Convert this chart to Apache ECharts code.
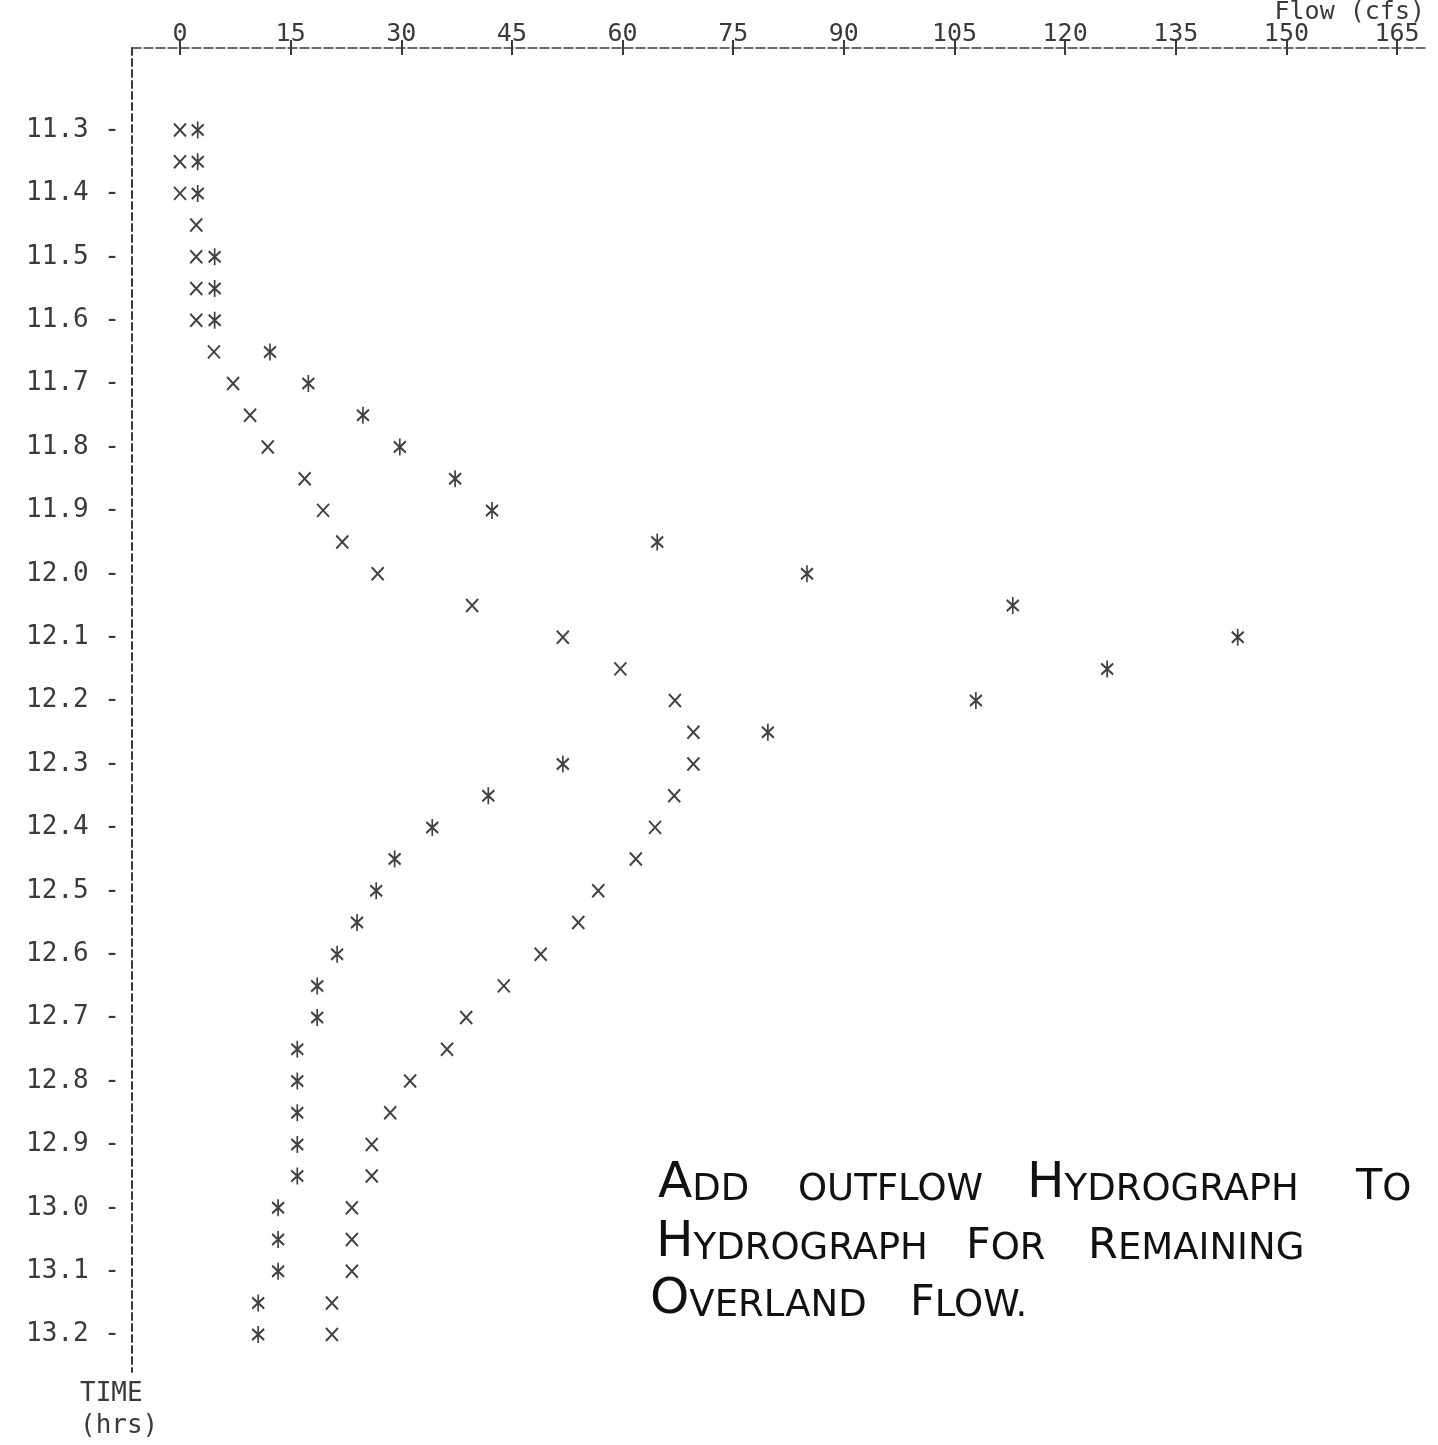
<!DOCTYPE html>
<html>
<head>
<meta charset="utf-8">
<title>Outflow hydrograph</title>
<script src="https://cdn.jsdelivr.net/npm/echarts@6/dist/echarts.min.js"></script>
<style>
  html, body { margin: 0; padding: 0; background: #fff; }
  #main { width: 1438px; height: 1445px; }
</style>
</head>
<body>
<div id="main"></div>
<script>
// time rows of the printout (hrs), one row every 0.05 hr
var times = [11.30, 11.35, 11.40, 11.45, 11.50, 11.55, 11.60, 11.65, 11.70, 11.75,
             11.80, 11.85, 11.90, 11.95, 12.00, 12.05, 12.10, 12.15, 12.20, 12.25,
             12.30, 12.35, 12.40, 12.45, 12.50, 12.55, 12.60, 12.65, 12.70, 12.75,
             12.80, 12.85, 12.90, 12.95, 13.00, 13.05, 13.10, 13.15, 13.20];

// "x" marks - outflow hydrograph (cfs)
var outflow = [0, 0, 0, 2.2, 2.2, 2.2, 2.2, 4.6, 7.2, 9.5,
               11.9, 16.9, 19.4, 22.0, 26.8, 39.6, 51.9, 59.7, 67.1, 69.6,
               69.6, 67.0, 64.4, 61.8, 56.7, 54.0, 48.9, 43.9, 38.8, 36.2,
               31.2, 28.5, 26.0, 26.0, 23.3, 23.3, 23.3, 20.6, 20.6];

// "*" marks (cfs), 11.45 is hidden under the x
var overland = [2.4, 2.4, 2.4, null, 4.7, 4.7, 4.7, 12.2, 17.4, 24.8,
                29.8, 37.3, 42.3, 64.7, 85.0, 112.9, 143.4, 125.7, 107.9, 79.7,
                51.9, 41.8, 34.2, 29.1, 26.6, 24.0, 21.3, 18.6, 18.6, 15.9,
                15.9, 15.9, 15.9, 15.9, 13.3, 13.3, 13.3, 10.6, 10.6];

var flowTicks = [0, 15, 30, 45, 60, 75, 90, 105, 120, 135, 150, 165];
var timeTicks = [11.3, 11.4, 11.5, 11.6, 11.7, 11.8, 11.9, 12.0, 12.1, 12.2,
                 12.3, 12.4, 12.5, 12.6, 12.7, 12.8, 12.9, 13.0, 13.1, 13.2];

var mono = '"DejaVu Sans Mono", "Liberation Mono", monospace';
var ink = '#3a3a3a';

function pairs(vals) {
    return vals.map(function (v, i) {
        return [v === null ? '-' : v, times[i]];
    });
}

var myChart = echarts.init(document.getElementById('main'));

// handwritten note, one text per word, bottom aligned on y
var sans = '"DejaVu Sans", sans-serif';
var hand = {
    b: { fontSize: 50, fontFamily: sans, color: '#111', verticalAlign: 'bottom' },
    m: { fontSize: 43, fontFamily: sans, color: '#111', verticalAlign: 'bottom' },
    s: { fontSize: 37, fontFamily: sans, color: '#111', verticalAlign: 'bottom' }
};
function word(x, y, txt) {
    return {
        type: 'text', x: x, y: y,
        style: { text: txt, rich: hand, fill: '#111', align: 'left', verticalAlign: 'bottom' }
    };
}

var option = {
    animation: false,
    backgroundColor: '#fff',
    grid: { left: 132, top: 48, right: 13, bottom: 73 },
    xAxis: [{
        type: 'value',
        position: 'top',
        min: -6.508,
        max: 168.79,
        axisLine: { show: true, onZero: false, lineStyle: { color: ink, width: 1.5, type: [9, 3] } },
        axisTick: { show: true, customValues: flowTicks, length: 8, lineStyle: { color: ink, width: 2 } },
        axisLabel: {
            customValues: flowTicks, margin: 1,
            fontFamily: mono, fontSize: 25, color: ink
        },
        splitLine: { show: false }
    }, {
        type: 'value',
        position: 'top',
        min: -6.508,
        max: 168.79,
        axisLine: { show: false },
        axisTick: { show: true, inside: true, customValues: flowTicks, length: 7, lineStyle: { color: ink, width: 2 } },
        axisLabel: { show: false },
        splitLine: { show: false }
    }],
    yAxis: {
        type: 'value',
        inverse: true,
        min: 11.1707,
        max: 13.259,
        axisLine: { show: true, onZero: false, lineStyle: { color: ink, width: 2, type: [7, 4] } },
        axisTick: { show: false },
        axisLabel: {
            customValues: timeTicks, margin: 12,
            fontFamily: mono, fontSize: 26, color: ink,
            formatter: function (v) { return v.toFixed(1) + ' -'; }
        },
        splitLine: { show: false }
    },
    graphic: [
        { type: 'text', right: 13, top: 0,
          style: { text: 'Flow (cfs)', font: '25px ' + mono, fill: ink } },
        { type: 'text', left: 80, top: 1381,
          style: { text: 'TIME', font: '26px ' + mono, fill: ink } },
        { type: 'text', left: 80, top: 1413,
          style: { text: '(hrs)', font: '26px ' + mono, fill: ink } },

        word(658, 1209, '{b|A}{s|DD}'),
        word(798, 1209, '{s|OUTFLOW}'),
        word(1027, 1209, '{b|H}{s|YDROGRAPH}'),
        word(1356, 1209, '{m|T}{s|O}'),

        word(656, 1268, '{b|H}{s|YDROGRAPH}'),
        word(966, 1268, '{m|F}{s|OR}'),
        word(1088, 1268, '{m|R}{s|EMAINING}'),

        word(650, 1325, '{b|O}{s|VERLAND}'),
        word(910, 1325, '{m|F}{s|LOW.}')
    ],
    series: [{
        name: 'overland',
        type: 'scatter',
        data: pairs(overland),
        symbol: 'path://M6,0L6,17M0,3L12,14M12,3L0,14',
        symbolSize: [12, 17],
        symbolKeepAspect: false,
        itemStyle: { color: '#111', borderColor: '#111', borderWidth: 2 }
    }, {
        name: 'outflow',
        type: 'scatter',
        data: pairs(outflow),
        symbol: 'path://M0,0L12,13M12,0L0,13',
        symbolSize: [12, 13],
        symbolKeepAspect: false,
        itemStyle: { color: '#111', borderColor: '#111', borderWidth: 2 }
    }]
};

myChart.setOption(option);
</script>
</body>
</html>
